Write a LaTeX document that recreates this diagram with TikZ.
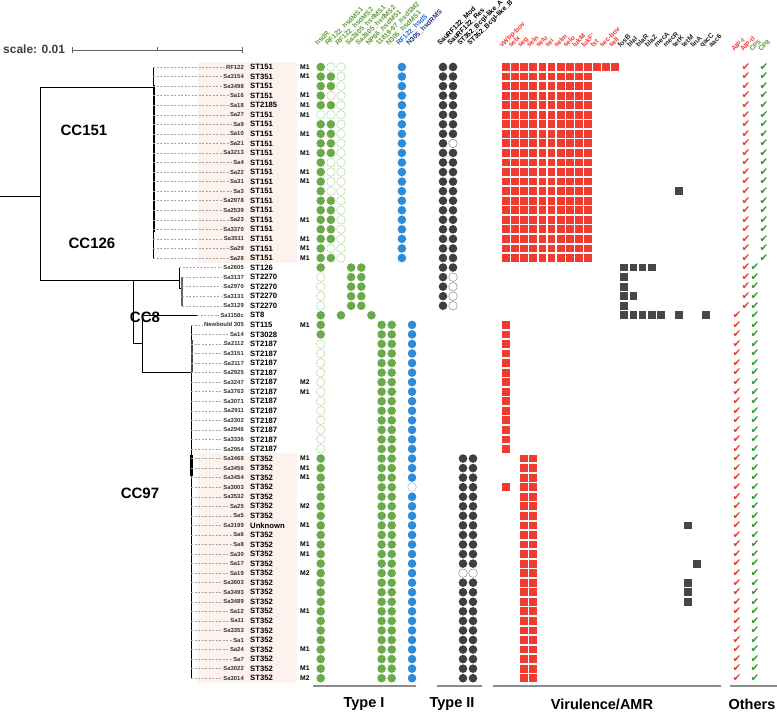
\documentclass[tikz,border=0pt]{standalone}
\usepackage{fontspec}
\setmainfont{Liberation Sans}
\newfontfamily\symb{DejaVu Sans}
\usetikzlibrary{positioning}

\definecolor{vert}{HTML}{6AAA4B}
\definecolor{vertclair}{HTML}{B2D7A0}
\definecolor{bleu}{HTML}{2F8AD8}
\definecolor{sombre}{HTML}{3F3F3F}
\definecolor{rouge}{HTML}{EF3B30}
\definecolor{rose}{HTML}{FDF2EE}
\definecolor{vertlbl}{HTML}{5B9E33}
\definecolor{bleulbl}{HTML}{1E6BCB}
\definecolor{marine}{HTML}{1F3E8E}
\definecolor{vertcoche}{HTML}{2E9A2E}

% position des lignes
\newcommand\ligne[1]{67+(#1-1)*9.55}
\newcommand\typeun[3]{\foreach \r in {#3}{\node[#1] (a#2-\r) at ({320.7+10.15*(#2-1)},{\ligne{\r}}) {};}}
\newcommand\typedeux[3]{\foreach \r in {#3}{\node[#1] (b#2-\r) at ({443+10*(#2-1)},{\ligne{\r}}) {};}}
\newcommand\viru[3]{\foreach \r in {#3}{\node[#1] (v#2-\r) at ({506+9.1*#2},{\ligne{\r}}) {};}}
\newcommand\coche[3]{\foreach \r in {#3}{\node[#1] (c#2-\r) at ({737+9*#2},{\ligne{\r}}) {\symb ✔};}}

\tikzset{
  pastille/.style={circle, inner sep=0pt, minimum size=8.6pt},
  plein/.style={pastille, fill=vert},
  vide/.style={pastille, draw=vertclair, line width=0.5pt},
  bleuplein/.style={pastille, fill=bleu},
  bleuvide/.style={pastille, draw=bleu!50, line width=0.5pt},
  noir/.style={pastille, fill=sombre},
  noirvide/.style={pastille, draw=black!45, line width=0.5pt},
  carre/.style={rectangle, inner sep=0pt, minimum size=7.8pt, fill=rouge},
  carregris/.style={rectangle, inner sep=0pt, minimum size=7.8pt, fill=black!72},
  cocher/.style={inner sep=0pt, text=rouge, font=\fontsize{10.5}{10.5}\selectfont},
  cochev/.style={inner sep=0pt, text=vertcoche, font=\fontsize{10.5}{10.5}\selectfont},
  souche/.style={anchor=east, inner sep=1pt, text=black!80, font=\fontsize{5.9}{6}\selectfont\bfseries},
  sttxt/.style={anchor=west, inner sep=0pt, font=\fontsize{7.7}{8}\selectfont\bfseries},
  mtxt/.style={anchor=west, inner sep=0pt, font=\fontsize{6.8}{7}\selectfont\bfseries},
  entete/.style={rotate=45, anchor=base west, inner sep=0pt, font=\fontsize{6.8}{7}\selectfont\bfseries},
  groupe/.style={font=\fontsize{15}{15}\selectfont\bfseries},
  titre/.style={font=\fontsize{14.5}{15}\selectfont\bfseries},
  tiret/.style={black!35, line width=0.45pt, dash pattern=on 2pt off 1.5pt},
  branche/.style={black, line width=0.8pt},
  trait/.style={black!45, line width=1.6pt}
}

\begin{document}
\begin{tikzpicture}[x=1pt,y=-1pt]
\useasboundingbox (0,0) rectangle (777,714);

% Fond rose
\fill[rose] (198,62) rectangle (297,263);
\fill[rose] (198,453) rectangle (297,683);

% Echelle
\node[anchor=west, inner sep=0pt, text=black!75, font=\fontsize{12}{12}\selectfont\bfseries] (echelle) at (3,49) {scale: 0.01};
\draw[black!60, line width=0.6pt] (72,50) -- (242,50);
\draw[black!60, line width=0.6pt] (72,47) -- (72,53);
\draw[black!60, line width=0.6pt] (242,47) -- (242,53);
\draw[black!60, line width=0.6pt] (157,47) -- (157,50);

% Arbre
\draw[branche] (0,196) -- (40,196);
\draw[branche] (40,87) -- (40,280);
\draw[branche] (40,87) -- (153,87);
\draw[branche] (153,67) -- (153,258);
\draw[black, line width=2pt] (153.6,85) -- (153.6,232);
\draw[branche] (40,280) -- (179,280);
\draw[branche] (133,280) -- (133,343) -- (142,343);
\draw[branche] (179,{\ligne{22}}) -- (179,288) -- (182,288);
\draw[black!60, line width=1.4pt] (182,{\ligne{23}}) -- (182,{\ligne{26}});
\draw[branche] (142,{\ligne{27}}) -- (142,372);
\draw[branche] (142,{\ligne{27}}) -- (197,{\ligne{27}});
\draw[branche] (142,372) -- (191,372);
\draw[branche] (191,{\ligne{28}}) -- (191,{\ligne{65}});
\draw[black!70, line width=2pt] (191.5,340) -- (191.5,372);
\draw[black, line width=2.4pt] (191.5,455) -- (191.5,476);

% Souches, ST et M
\foreach \r/\s/\t/\m in {1/RF122/ST151/M1, 2/Sa3154/ST351/M1, 3/Sa3498/ST151/{}, 4/Sa16/ST151/M1,
  5/Sa18/ST2185/M1, 6/Sa27/ST151/M1, 7/Sa9/ST151/{}, 8/Sa10/ST151/M1, 9/Sa21/ST151/{},
  10/Sa3213/ST151/M1, 11/Sa4/ST151/{}, 12/Sa22/ST151/M1, 13/Sa31/ST151/M1, 14/Sa3/ST151/{},
  15/Sa2978/ST151/{}, 16/Sa2539/ST151/{}, 17/Sa23/ST151/M1, 18/Sa3370/ST151/{},
  19/Sa3511/ST151/M1, 20/Sa29/ST151/M1, 21/Sa28/ST151/M1, 22/Sa2605/ST126/{},
  23/Sa3137/ST2270/{}, 24/Sa2970/ST2270/{}, 25/Sa3131/ST2270/{}, 26/Sa3129/ST2270/{},
  27/Sa1158c/ST8/{}, 28/Newbould 305/ST115/M1, 29/Sa14/ST3028/{}, 30/Sa2112/ST2187/{},
  31/Sa3151/ST2187/{}, 32/Sa2117/ST2187/{}, 33/Sa2925/ST2187/{}, 34/Sa3247/ST2187/M2,
  35/Sa3763/ST2187/M1, 36/Sa3071/ST2187/{}, 37/Sa2911/ST2187/{}, 38/Sa3302/ST2187/{},
  39/Sa2946/ST2187/{}, 40/Sa3336/ST2187/{}, 41/Sa2954/ST2187/{}, 42/Sa3468/ST352/M1,
  43/Sa3456/ST352/M1, 44/Sa3454/ST352/M1, 45/Sa3003/ST352/{}, 46/Sa3532/ST352/{},
  47/Sa25/ST352/M2, 48/Sa5/ST352/{}, 49/Sa3199/Unknown/M1, 50/Sa6/ST352/{}, 51/Sa8/ST352/M1,
  52/Sa30/ST352/M1, 53/Sa17/ST352/{}, 54/Sa19/ST352/M2, 55/Sa3603/ST352/{}, 56/Sa3493/ST352/{},
  57/Sa3489/ST352/{}, 58/Sa12/ST352/M1, 59/Sa11/ST352/{}, 60/Sa3353/ST352/{}, 61/Sa1/ST352/{},
  62/Sa24/ST352/M1, 63/Sa7/ST352/{}, 64/Sa3022/ST352/M1, 65/Sa3014/ST352/M2}{
  \node[souche] (s\r) at (245,{\ligne{\r}}) {\s};
  \node[sttxt] (t\r) at (250,{\ligne{\r}}) {\t};
  \node[mtxt] (m\r) at (300,{\ligne{\r}}) {\m};
}

% Pointilles
\foreach \r in {1,...,21} {\coordinate (p\r) at (153,{\ligne{\r}}); \draw[tiret] (p\r) -- (s\r);}
\coordinate (p22) at (179,{\ligne{22}}); \draw[tiret] (p22) -- (s22);
\foreach \r in {23,...,26} {\coordinate (p\r) at (182,{\ligne{\r}}); \draw[tiret] (p\r) -- (s\r);}
\coordinate (p27) at (197,{\ligne{27}}); \draw[tiret] (p27) -- (s27);
\foreach \r in {28,...,65} {\coordinate (p\r) at (191,{\ligne{\r}}); \draw[tiret] (p\r) -- (s\r);}

% Groupes clonaux
\node[groupe] (cc151) at (84,130) {CC151};
\node[groupe] (cc126) at (92,243) {CC126};
\node[groupe] (cc8) at (145,317) {CC8};
\node[groupe] (cc97) at (140,493) {CC97};

% Type I
\typeun{plein}{1}{1,...,5,7,8,...,22,27,28,29,42,43,...,65}
\typeun{vide}{1}{6,23,24,...,26,30,31,...,41}
\typeun{plein}{2}{2,3,5,7,8,9,10,15,16,...,19,21}
\typeun{vide}{2}{1,4,6,11,12,...,14,20}
\typeun{vide}{3}{1,...,21}
\typeun{plein}{3}{27}
\typeun{plein}{4}{22,...,26}
\typeun{plein}{5}{22,...,26}
\typeun{plein}{6}{27}
\typeun{plein}{7}{28,...,65}
\typeun{plein}{8}{28,...,65}
\typeun{bleuplein}{9}{1,...,21}
\typeun{bleuplein}{10}{28,...,44,46,47,...,65}
\typeun{bleuvide}{10}{45}

% Type II
\typedeux{noir}{1}{1,...,26}
\typedeux{noir}{2}{1,...,8,10,11,...,22}
\typedeux{noirvide}{2}{9,23,24,...,26}
\typedeux{noir}{3}{42,...,53,55,56,...,65}
\typedeux{noir}{4}{42,...,53,55,56,...,65}
\typedeux{noirvide}{3}{54}
\typedeux{noirvide}{4}{54}

% Virulence / AMR
\viru{carre}{0}{1,...,21,28,29,...,41,45}
\foreach \c in {1,...,9} {\viru{carre}{\c}{1,...,21}}
\foreach \c in {10,11,12} {\viru{carre}{\c}{1}}
\viru{carre}{2}{42,...,65}
\viru{carre}{3}{42,...,65}
\viru{carregris}{19}{14}
\foreach \c in {13,...,16} {\viru{carregris}{\c}{22}}
\viru{carregris}{13}{23,...,26}
\viru{carregris}{14}{25}
\foreach \c in {13,...,17} {\viru{carregris}{\c}{27}}
\viru{carregris}{19}{27}
\viru{carregris}{22}{27}
\viru{carregris}{20}{49,55,56,57}
\viru{carregris}{21}{53}

% Autres
\coche{cocher}{1}{1,...,26}
\coche{cochev}{3}{1,...,21}
\coche{cochev}{2}{22,...,65}
\coche{cocher}{0}{27,...,65}

% Entetes
\foreach \c/\n/\k in {1/hsdR/vertlbl, 2/RF122\_hsdMS1/vertlbl, 3/RF122\_hsdMS2/vertlbl,
  4/Sa2605\_hsdMS1/vertlbl, 5/Sa2605\_hsdMS2/vertlbl, 6/NP66\_hsdMS1/vertlbl,
  7/11819-97\_hsdSM2/vertlbl, 8/N305\_hsdMS1/vertlbl, 9/RF122\_hsdS/bleulbl, 10/N305\_hsdRMS/marine}
  \node[entete, text=\k] (ha\c) at ({317.7+10.15*(\c-1)},46) {\n};
\foreach \c/\n in {1/SauRF122\_Mod, 2/SauRF122\_Res, 3/ST352\_BcgI-like\_A, 4/ST352\_BcgI-like\_B}
  \node[entete] (hb\c) at ({440+10*(\c-1)},46) {\n};
\foreach \c/\n in {0/vWbp-bov, 1/selx, 2/seg, 3/seln, 4/selu, 5/sei, 6/selm, 7/selo, 8/lukM,
  9/lukF', 10/tst, 11/sec-bov, 12/sell}
  \node[entete, text=rouge] (hv\c) at ({502+9.1*\c},48) {\n};
\foreach \c/\n in {13/fosB, 14/blaI, 15/blaR, 16/blaZ, 17/mecA, 18/mecR, 19/tetK, 20/tetM,
  21/linA, 22/qacC, 23/aac6}
  \node[entete, text=black!85] (hv\c) at ({502+9.1*\c},48) {\n};
\node[entete, text=rouge] (ho0) at (734,52) {AIP-I};
\node[entete, text=rouge] (ho1) at (743,52) {AIP-II};
\node[entete, text=vertlbl] (ho2) at (752,52) {CP5};
\node[entete, text=vertlbl] (ho3) at (761,52) {CP8};

% Legendes du bas
\draw[trait] (313,686) -- (416,686);
\draw[trait] (437,686) -- (482,686);
\draw[trait] (493,686) -- (721,686);
\draw[trait] (730,686) -- (777,686);
\node[titre] (ti) at (364,704) {Type I};
\node[titre] (tii) at (452,704) {Type II};
\node[titre] (tvir) at (602,704) {Virulence/AMR};
\node[titre] (taut) at (752,704) {Others};

\end{tikzpicture}
\end{document}
